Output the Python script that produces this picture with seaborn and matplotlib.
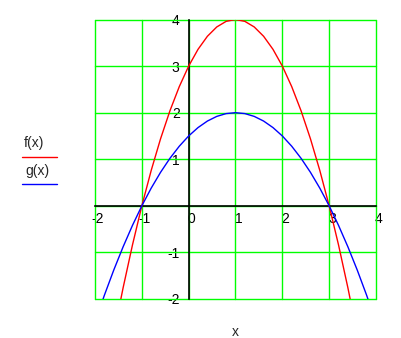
import numpy as np
import pandas as pd
import matplotlib
matplotlib.use("Agg")
import matplotlib.pyplot as plt
import matplotlib.transforms as mtransforms
from matplotlib.lines import Line2D
import seaborn as sns

# values
x_vals = [-2.0, -1.8, -1.6, -1.4, -1.2, -1.0, -0.8, -0.6, -0.4, -0.2, 0.0,
          0.2, 0.4, 0.6, 0.8, 1.0, 1.2, 1.4, 1.6, 1.8, 2.0,
          2.2, 2.4, 2.6, 2.8, 3.0, 3.2, 3.4, 3.6, 3.8, 4.0]
f_vals = [-5.0, -3.84, -2.76, -1.76, -0.84, 0.0, 0.76, 1.44, 2.04, 2.56, 3.0,
          3.36, 3.64, 3.84, 3.96, 4.0, 3.96, 3.84, 3.64, 3.36, 3.0,
          2.56, 2.04, 1.44, 0.76, 0.0, -0.84, -1.76, -2.76, -3.84, -5.0]
g_vals = [-2.5, -1.92, -1.38, -0.88, -0.42, 0.0, 0.38, 0.72, 1.02, 1.28, 1.5,
          1.68, 1.82, 1.92, 1.98, 2.0, 1.98, 1.92, 1.82, 1.68, 1.5,
          1.28, 1.02, 0.72, 0.38, 0.0, -0.42, -0.88, -1.38, -1.92, -2.5]
x_ticks = [-2, -1, 0, 1, 2, 3, 4]
y_ticks = [-2, -1, 0, 1, 2, 3, 4]
y_ticklabels = ["-2", "-1", "", "1", "2", "3", "4"]
x_ticklabels = ["-2", "-1", "0", "1", "2", "3", "4"]
legend_labels = ["f(x)", "g(x)"]
line_colors = ["#ff0000", "#0000ff"]

sns.set_style("white")
plt.rcParams["font.family"] = ["Liberation Sans", "DejaVu Sans"]

W, H = 402, 338
FS = 10
fig = plt.figure(figsize=(W / 100, H / 100), dpi=100)
ax = fig.add_axes([95 / W, 1 - 299 / H, (376 - 95) / W, (299 - 19.5) / H])

df = pd.DataFrame({"x": x_vals, "f": f_vals, "g": g_vals})
sns.lineplot(data=df, x="x", y="f", ax=ax, color=line_colors[0], lw=1.0, zorder=4)
sns.lineplot(data=df, x="x", y="g", ax=ax, color=line_colors[1], lw=1.0, zorder=4)

ax.set_xlim(-2, 4)
ax.set_ylim(-2, 4)
ax.set_xlabel("")
ax.set_ylabel("")

# green grid at every integer including the frame
for v in x_ticks:
    ax.axvline(v, color="#00ff00", lw=1.0, zorder=1, clip_on=False)
for v in y_ticks:
    ax.axhline(v, color="#00ff00", lw=1.0, zorder=1, clip_on=False)

for s in ["top", "right"]:
    ax.spines[s].set_visible(False)
ax.spines["left"].set_position(("data", 0))
ax.spines["bottom"].set_position(("data", 0))
for s in ["left", "bottom"]:
    ax.spines[s].set_color("black")
    ax.spines[s].set_linewidth(1.2)
    ax.spines[s].set_zorder(3)

ax.set_xticks(x_ticks)
ax.set_xticklabels(x_ticklabels)
ax.set_yticks(y_ticks)
ax.set_yticklabels(y_ticklabels)
ax.tick_params(axis="both", direction="inout", length=7, width=1.2,
               color="black", labelsize=FS, labelcolor="black", pad=1)
ax.tick_params(axis="y", pad=3)

off = mtransforms.ScaledTranslation(3 / 100, 0, fig.dpi_scale_trans)
for lab in ax.get_xticklabels():
    lab.set_transform(lab.get_transform() + off)

# legend on the left
fig.text(34 / W, 1 - 143.5 / H, legend_labels[0], ha="center", va="center", fontsize=FS)
fig.add_artist(Line2D([22 / W, 57 / W], [1 - 157 / H, 1 - 157 / H],
                      color=line_colors[0], lw=1.0, transform=fig.transFigure))
fig.text(37 / W, 1 - 170.5 / H, legend_labels[1], ha="center", va="center", fontsize=FS)
fig.add_artist(Line2D([22 / W, 57 / W], [1 - 183.5 / H, 1 - 183.5 / H],
                      color=line_colors[1], lw=1.0, transform=fig.transFigure))

fig.text(235 / W, 1 - 332 / H, "x", ha="center", va="center", fontsize=FS)

fig.savefig("out.png", dpi=100)
